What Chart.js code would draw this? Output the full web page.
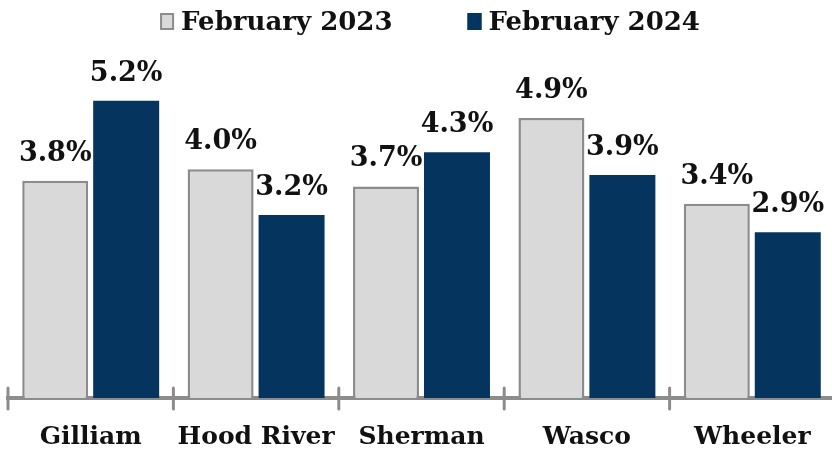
<!DOCTYPE html>
<html>
<head>
<meta charset="utf-8">
<script src="https://cdn.jsdelivr.net/npm/chart.js@4"></script>
<style>
  html, body { margin: 0; padding: 0; background: #fff; overflow: hidden; }
  #wrap { width: 832px; height: 455px; overflow: hidden; }
</style>
</head>
<body>
<div id="wrap"><canvas id="myChart" width="840" height="476"></canvas></div>
<script>
const categories = ["Gilliam", "Hood River", "Sherman", "Wasco", "Wheeler"];
const feb2023 = [3.8, 4.0, 3.7, 4.9, 3.4];
const feb2024 = [5.2, 3.2, 4.3, 3.9, 2.9];
const seriesNames = ["February 2023", "February 2024"];

const FONT = "'DejaVu Serif', 'Liberation Serif', serif";
const grayFill = "#d9d9d9";
const grayLine = "#8c8c8c";
const navy = "#05345f";

// value labels above each bar
const barLabels = {
    id: "barLabels",
    afterDatasetsDraw(chart) {
        const ctx = chart.ctx;
        ctx.save();
        ctx.font = "bold 27px " + FONT;
        ctx.fillStyle = "#111";
        ctx.textAlign = "center";
        ctx.textBaseline = "alphabetic";
        chart.data.datasets.forEach((ds, i) => {
            chart.getDatasetMeta(i).data.forEach((bar, j) => {
                ctx.fillText(ds.data[j].toFixed(1) + "%", bar.x, bar.y - 20);
            });
        });
        ctx.restore();
    }
};

// small tick marks crossing the axis between categories
const axisTicks = {
    id: "axisTicks",
    afterDraw(chart) {
        const ctx = chart.ctx;
        const x = chart.scales.x;
        const y0 = chart.chartArea.bottom;
        ctx.save();
        ctx.strokeStyle = grayLine;
        ctx.lineWidth = 3;
        ctx.lineCap = "round";
        for (let i = 0; i <= categories.length; i++) {
            const px = x.getPixelForValue(i - 0.5);
            ctx.beginPath();
            ctx.moveTo(px, y0 - 10);
            ctx.lineTo(px, y0 + 11);
            ctx.stroke();
        }
        ctx.restore();
    }
};

// legend drawn at the top, centred
const topLegend = {
    id: "topLegend",
    afterDraw(chart) {
        const ctx = chart.ctx;
        ctx.save();
        ctx.font = "bold 26px " + FONT;
        const boxW = 14, boxH = 17, gap = 7, spacing = 75;
        const w1 = ctx.measureText(seriesNames[0]).width;
        const w2 = ctx.measureText(seriesNames[1]).width;
        const total = boxW + gap + w1 + spacing + boxW + gap + w2;
        let x = 430 - total / 2;
        const yMid = 23;
        const styles = [[grayFill, grayLine], [navy, navy]];
        [w1, w2].forEach((w, i) => {
            ctx.fillStyle = styles[i][0];
            ctx.strokeStyle = styles[i][1];
            ctx.lineWidth = 2;
            ctx.fillRect(x, 13, boxW, boxH);
            ctx.strokeRect(x + 1, 14, boxW - 2, boxH - 2);
            x += boxW + gap;
            ctx.fillStyle = "#111";
            ctx.textBaseline = "middle";
            ctx.fillText(seriesNames[i], x, yMid);
            x += w + spacing;
        });
        ctx.restore();
    }
};

const ctx = document.querySelector("#myChart").getContext("2d");

const config = {
    type: "bar",
    data: {
        labels: categories,
        datasets: [{
            label: seriesNames[0],
            data: feb2023,
            backgroundColor: grayFill,
            borderColor: grayLine,
            borderWidth: 2.5,
        }, {
            label: seriesNames[1],
            data: feb2024,
            backgroundColor: navy,
            borderColor: navy,
            borderWidth: 0,
        }]
    },
    options: {
        responsive: false,
        animation: false,
        categoryPercentage: 0.858,
        barPercentage: 0.93,
        layout: {
            padding: { top: 55, left: 8, right: 5, bottom: 0 }
        },
        plugins: {
            legend: { display: false },
            tooltip: { enabled: false }
        },
        scales: {
            x: {
                z: 1,
                grid: { display: false, drawTicks: false },
                border: { display: true, color: grayLine, width: 4 },
                ticks: {
                    color: "#111",
                    padding: 24,
                    font: { family: FONT, size: 25, weight: "bold" }
                }
            },
            y: {
                display: false,
                min: 0,
                max: 6
            }
        }
    },
    plugins: [barLabels, axisTicks, topLegend]
};

const myChart = new Chart(ctx, config);
</script>
</body>
</html>
